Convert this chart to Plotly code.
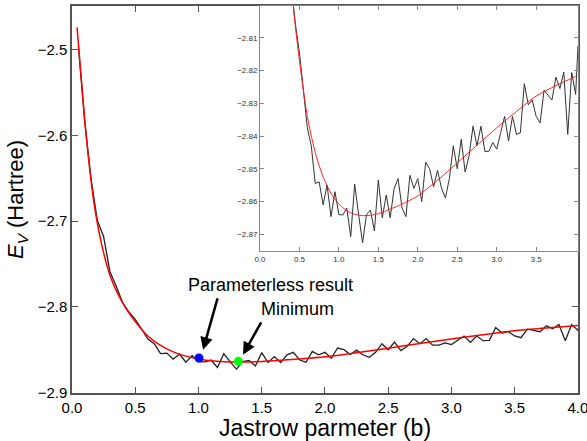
import plotly.graph_objects as go

# Jastrow parameter b (sampled) and variational energy E_V (Hartree)
b_values = [0.05, 0.10, 0.15, 0.20, 0.25, 0.30, 0.35, 0.40, 0.45, 0.50,
            0.55, 0.60, 0.65, 0.70, 0.75, 0.80, 0.85, 0.90, 0.95, 1.00,
            1.05, 1.10, 1.15, 1.20, 1.25, 1.30, 1.35, 1.40, 1.45, 1.50,
            1.55, 1.60, 1.65, 1.70, 1.75, 1.80, 1.85, 1.90, 1.95, 2.00,
            2.05, 2.10, 2.15, 2.20, 2.25, 2.30, 2.35, 2.40, 2.45, 2.50,
            2.55, 2.60, 2.65, 2.70, 2.75, 2.80, 2.85, 2.90, 2.95, 3.00,
            3.05, 3.10, 3.15, 3.20, 3.25, 3.30, 3.35, 3.40, 3.45, 3.50,
            3.55, 3.60, 3.65, 3.70, 3.75, 3.80, 3.85, 3.90, 3.95, 4.00, 4.03]
energy_values = [-2.495, -2.583, -2.650, -2.699, -2.718, -2.759, -2.776, -2.795, -2.806, -2.8145,
                 -2.826, -2.8375, -2.843, -2.8545, -2.854, -2.861, -2.855, -2.8646, -2.857, -2.864,
                 -2.8641, -2.862, -2.8707, -2.8547, -2.864, -2.8726, -2.864, -2.8626, -2.869, -2.8534,
                 -2.865, -2.858, -2.865, -2.856, -2.853, -2.862, -2.8646, -2.852, -2.856, -2.853,
                 -2.860, -2.848, -2.850, -2.8555, -2.8505, -2.8559, -2.8589, -2.853, -2.843, -2.850,
                 -2.841, -2.851, -2.846, -2.837, -2.843, -2.837, -2.8447, -2.8447, -2.842, -2.844,
                 -2.839, -2.834, -2.8415, -2.834, -2.8395, -2.839, -2.824, -2.8305, -2.829, -2.834,
                 -2.836, -2.826, -2.8275, -2.829, -2.822, -2.8255, -2.8205, -2.8395, -2.8206, -2.8273, -2.8125]

# Smooth fit curve (red)
fit_b = [0.04, 0.05, 0.075, 0.10, 0.125, 0.15, 0.175, 0.20, 0.25, 0.30,
         0.35, 0.40, 0.45, 0.50, 0.55, 0.60, 0.65, 0.70, 0.75, 0.80,
         0.90, 1.00, 1.10, 1.20, 1.30, 1.40, 1.50, 1.60, 1.80, 2.00,
         2.25, 2.50, 2.75, 3.00, 3.25, 3.50, 3.75, 4.00]
fit_energy = [-2.474, -2.492, -2.536, -2.581, -2.619, -2.652, -2.680, -2.702, -2.737, -2.763,
              -2.781, -2.795, -2.807, -2.817, -2.826, -2.834, -2.840, -2.845, -2.849, -2.8525,
              -2.8575, -2.8608, -2.8628, -2.8639, -2.8643, -2.8642, -2.8637, -2.8628, -2.8608, -2.8583,
              -2.8535, -2.8482, -2.8428, -2.8375, -2.8325, -2.8278, -2.8246, -2.8218]

# Highlighted points
param_less = (1.004, -2.8597)
minimum = (1.315, -2.8636)

main_xticks = [0.0, 0.5, 1.0, 1.5, 2.0, 2.5, 3.0, 3.5, 4.0]
main_yticks = [-2.9, -2.8, -2.7, -2.6, -2.5]
inset_xticks = [0.0, 0.5, 1.0, 1.5, 2.0, 2.5, 3.0, 3.5]
inset_yticks = [-2.87, -2.86, -2.85, -2.84, -2.83, -2.82, -2.81]

FONT = "Liberation Sans, Arial, sans-serif"

fig = go.Figure()

# main axes
fig.add_trace(go.Scatter(x=b_values, y=energy_values, mode="lines",
                         line=dict(color="#222222", width=1.3), xaxis="x", yaxis="y",
                         showlegend=False, hoverinfo="skip"))
fig.add_trace(go.Scatter(x=fit_b, y=fit_energy, mode="lines",
                         line=dict(color="#ff0000", width=1.5, shape="spline", smoothing=0.6),
                         xaxis="x", yaxis="y", showlegend=False, hoverinfo="skip"))
fig.add_trace(go.Scatter(x=[param_less[0]], y=[param_less[1]], mode="markers",
                         marker=dict(color="#0000ff", size=9), xaxis="x", yaxis="y",
                         showlegend=False))
fig.add_trace(go.Scatter(x=[minimum[0]], y=[minimum[1]], mode="markers",
                         marker=dict(color="#00ff00", size=9), xaxis="x", yaxis="y",
                         showlegend=False))

# inset axes
fig.add_trace(go.Scatter(x=b_values, y=energy_values, mode="lines",
                         line=dict(color="#333333", width=1), xaxis="x2", yaxis="y2",
                         showlegend=False, hoverinfo="skip"))
fig.add_trace(go.Scatter(x=fit_b, y=fit_energy, mode="lines",
                         line=dict(color="#ff2020", width=1, shape="spline", smoothing=0.6),
                         xaxis="x2", yaxis="y2", showlegend=False, hoverinfo="skip"))

axis_common = dict(showgrid=False, zeroline=False, showline=True, mirror="ticks",
                   ticks="inside", automargin=False, ticklabeloverflow="allow")

fig.update_layout(
    width=587, height=441,
    margin=dict(l=72, r=9, t=6, b=48),
    paper_bgcolor="white", plot_bgcolor="white",
    font=dict(family=FONT, color="black"),
    xaxis=dict(**axis_common, domain=[0, 1], range=[0, 4.0005], tickvals=main_xticks,
               tickformat=".1f", tickfont=dict(size=15), ticklen=6,
               linecolor="#555555", linewidth=1.5, tickcolor="#555555",
               title=dict(text="Jastrow parmeter (b)", font=dict(size=23), standoff=1)),
    yaxis=dict(**axis_common, domain=[0, 1], range=[-2.9005, -2.449], tickvals=main_yticks,
               tickformat=".1f", tickfont=dict(size=15), ticklen=6,
               linecolor="#555555", linewidth=1.5, tickcolor="#555555",
               title=dict(text="<i>E</i><sub><i>V</i></sub> (Hartree)", font=dict(size=22),
                          standoff=8)),
    xaxis2=dict(**axis_common, domain=[0.3715, 1.0], anchor="y2", range=[0, 4.03],
                tickvals=inset_xticks, tickformat=".1f", tickfont=dict(size=8, color="#333333"),
                ticklen=4, linecolor="#888888", linewidth=1, tickcolor="#888888"),
    yaxis2=dict(**axis_common, domain=[0.367, 1.0], anchor="x2", range=[-2.8751, -2.8003],
                tickvals=inset_yticks, tickformat=".2f", tickfont=dict(size=8, color="#333333"),
                ticklen=4, linecolor="#888888", linewidth=1, tickcolor="#888888"),
)

# Annotations: text labels
fig.add_annotation(x=1.573, y=-2.7744, xref="x", yref="y", text="Parameterless result",
                   showarrow=False, font=dict(size=18, color="black"))
fig.add_annotation(x=1.783, y=-2.8023, xref="x", yref="y", text="Minimum",
                   showarrow=False, font=dict(size=18, color="black"))
# arrows
fig.add_annotation(x=1.036, y=-2.850, ax=1.154, ay=-2.7884, xref="x", yref="y",
                   axref="x", ayref="y", text="", showarrow=True, arrowhead=2,
                   arrowsize=1, arrowwidth=2.5, arrowcolor="black")
fig.add_annotation(x=1.352, y=-2.8558, ax=1.502, ay=-2.8163, xref="x", yref="y",
                   axref="x", ayref="y", text="", showarrow=True, arrowhead=2,
                   arrowsize=1, arrowwidth=2.5, arrowcolor="black")

fig.write_html("out.html", config={"displayModeBar": False},
               post_script="document.body.style.margin='0';document.body.style.padding='0';")
